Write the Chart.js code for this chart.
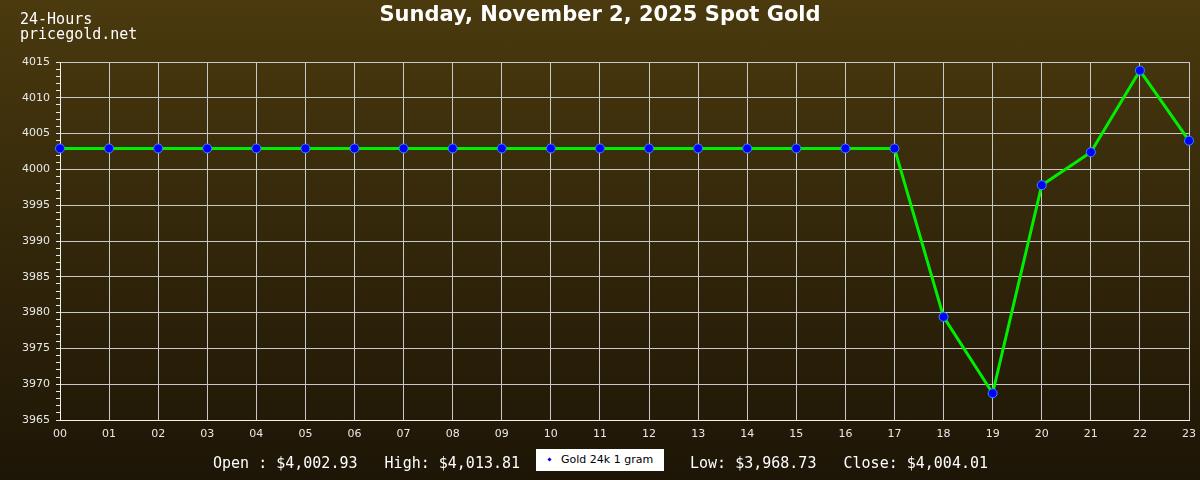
<!DOCTYPE html>
<html>
<head>
<meta charset="utf-8">
<script src="https://cdn.jsdelivr.net/npm/chart.js@4"></script>
<style>
  html, body { margin: 0; padding: 0; }
  body {
    width: 1200px; height: 480px; position: relative; overflow: hidden;
    background: linear-gradient(to bottom, #4b3a0e 0%, #35290b 45%, #1d1506 100%);
  }
  #wrap { position: absolute; left: 0; top: 0; width: 1200px; height: 480px; }
  .corner {
    position: absolute; left: 20px; top: 12px; color: #fff;
    font: 15px "DejaVu Sans Mono", monospace; line-height: 15px;
  }
  .title {
    position: absolute; left: 0; width: 1200px; top: 2px; text-align: center;
    color: #fff; font: bold 21px "DejaVu Sans", sans-serif;
  }
  .stats {
    position: absolute; top: 454px; color: #fff;
    font: 15px "DejaVu Sans Mono", monospace; white-space: pre; line-height: 18px;
  }
  .legend {
    position: absolute; left: 536px; top: 449px; width: 128px; height: 22px;
    background: #fff; color: #000; font: 11px "DejaVu Sans", sans-serif;
    line-height: 22px; box-sizing: border-box; padding-left: 25px;
  }
  .legend i {
    position: absolute; left: 12px; top: 9px; width: 3px; height: 3px;
    background: #0000ff; transform: rotate(45deg);
  }
</style>
</head>
<body>
<div id="wrap"><canvas id="goldChart" width="1200" height="480"></canvas></div>
<div class="corner">24-Hours<br>pricegold.net</div>
<div class="title">Sunday, November 2, 2025 Spot Gold</div>
<div class="stats" style="left:213px">Open : $4,002.93   High: $4,013.81</div>
<div class="legend"><i></i>Gold 24k 1 gram</div>
<div class="stats" style="left:690px">Low: $3,968.73   Close: $4,004.01</div>
<script>
// hours of the day
const hours = ['00', '01', '02', '03', '04', '05', '06', '07', '08', '09', '10', '11',
  '12', '13', '14', '15', '16', '17', '18', '19', '20', '21', '22', '23'];
// spot price per gram
const prices = [4002.93, 4002.93, 4002.93, 4002.93, 4002.93, 4002.93, 4002.93, 4002.93,
  4002.93, 4002.93, 4002.93, 4002.93, 4002.93, 4002.93, 4002.93, 4002.93, 4002.93, 4002.93,
  3979.4, 3968.73, 3997.8, 4002.4, 4013.81, 4004.01];
const yMin = 3965;
const yMax = 4015;
const yLabelStep = 5;

const ctx = document.getElementById('goldChart').getContext('2d');
new Chart(ctx, {
  type: 'line',
  data: {
    labels: hours,
    datasets: [{
      label: 'Gold 24k 1 gram',
      data: prices,
      borderColor: '#00ee00',
      borderWidth: 3,
      tension: 0,
      pointRadius: 4.5,
      pointBackgroundColor: '#0000ff',
      pointBorderColor: '#3a8cff',
      pointBorderWidth: 1
    }]
  },
  options: {
    responsive: false,
    animation: false,
    layout: { autoPadding: false, padding: { top: 62, right: 11, bottom: 40, left: 0 } },
    plugins: {
      legend: { display: false },
      tooltip: { enabled: false }
    },
    scales: {
      x: {
        offset: false,
        afterFit: (s) => { s.height = 20; s.paddingLeft = 0; s.paddingRight = 0; },
        border: { color: '#f0f0f0', width: 1 },
        grid: { color: '#c8c8c8', lineWidth: 1, drawTicks: false },
        ticks: {
          color: '#e8e8e8', maxRotation: 0, autoSkip: false, padding: 8,
          font: { family: 'DejaVu Sans', size: 11 }
        }
      },
      y: {
        min: yMin,
        max: yMax,
        afterFit: (s) => { s.width = 60; s.paddingTop = 0; s.paddingBottom = 0; },
        border: { color: '#f0f0f0', width: 1 },
        grid: {
          color: (c) => (c.tick && c.tick.value % yLabelStep === 0) ? '#c8c8c8' : 'rgba(0,0,0,0)',
          tickColor: '#e8e8e8',
          tickLength: 4
        },
        ticks: {
          stepSize: 1,
          autoSkip: false,
          color: '#e8e8e8',
          padding: 6,
          font: { family: 'DejaVu Sans', size: 11 },
          callback: (v) => (v % yLabelStep === 0) ? v : ''
        }
      }
    }
  }
});
</script>
</body>
</html>
